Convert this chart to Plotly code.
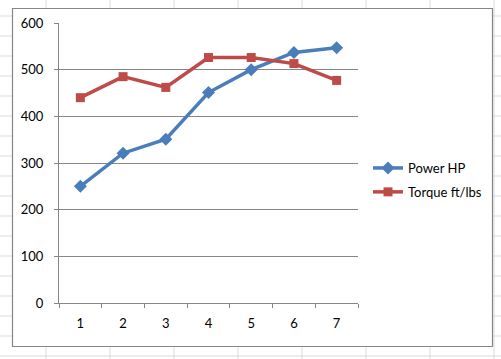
import plotly.graph_objects as go

categories = ["1", "2", "3", "4", "5", "6", "7"]
power_hp = [250, 321, 351, 451, 500, 537, 547]
torque = [440, 485, 462, 526, 526, 513, 477]
y_ticks = [0, 100, 200, 300, 400, 500, 600]

W, H = 501, 359
PL, PR, PT, PB = 59, 358, 23, 303  # plot area in pixels


def px(x):
    return (x - PL) / (PR - PL)


def py(y):
    return (PB - y) / (PB - PT)


fig = go.Figure()
fig.add_trace(go.Scatter(
    x=categories, y=power_hp, name="Power HP", mode="lines+markers",
    legendgroup="a",
    line=dict(color="#4A7EBB", width=3.5),
    marker=dict(symbol="diamond", size=10, color="#4A7EBB"),
))
fig.add_trace(go.Scatter(
    x=categories, y=torque, name="Torque ft/lbs", mode="lines+markers",
    legendgroup="b",
    line=dict(color="#BE4B48", width=3.5),
    marker=dict(symbol="square", size=9, color="#BE4B48"),
))

shapes = []
grid_col = "#D9DBDD"
# spreadsheet background grid
for gx in range(46, 501, 64):
    shapes.append(dict(type="line", xref="paper", yref="paper",
                       x0=px(gx), x1=px(gx), y0=py(0), y1=py(H),
                       line=dict(color=grid_col, width=1), layer="below"))
for gy in range(16, 360, 20):
    shapes.append(dict(type="line", xref="paper", yref="paper",
                       x0=px(0), x1=px(W), y0=py(gy), y1=py(gy),
                       line=dict(color=grid_col, width=1), layer="below"))
# chart area box
shapes.append(dict(type="rect", xref="paper", yref="paper",
                   x0=px(12.5), x1=px(492.5), y0=py(8.5), y1=py(346.5),
                   fillcolor="white", line=dict(color="#868686", width=1.2),
                   layer="below"))

fig.update_layout(
    width=W, height=H,
    margin=dict(l=PL, r=W - PR, t=PT, b=H - PB),
    paper_bgcolor="white", plot_bgcolor="rgba(0,0,0,0)",
    font=dict(family="Lato, Liberation Sans, sans-serif", size=13, color="#000000"),
    shapes=shapes,
    showlegend=True,
    legend=dict(x=px(368), y=py(153), xanchor="left", yanchor="top",
                bgcolor="rgba(0,0,0,0)", tracegroupgap=4,
                font=dict(size=13)),
    xaxis=dict(type="category", range=[-0.5, 6.5], showgrid=False,
               showline=True, linecolor="#868686", linewidth=1,
               ticks="outside", ticklen=4, tickcolor="#868686",
               tickson="boundaries", ticklabelstandoff=8, zeroline=False,
               fixedrange=True),
    yaxis=dict(range=[0, 600], tickvals=y_ticks, showgrid=True,
               gridcolor="#868686", gridwidth=1,
               showline=True, linecolor="#868686", linewidth=1,
               ticks="outside", ticklen=4, tickcolor="#868686",
               ticklabelstandoff=8, zeroline=False, fixedrange=True),
)

fig.write_html("out.html", config={"displayModeBar": False},
               post_script="document.body.style.margin='0';document.body.style.overflow='hidden';")
